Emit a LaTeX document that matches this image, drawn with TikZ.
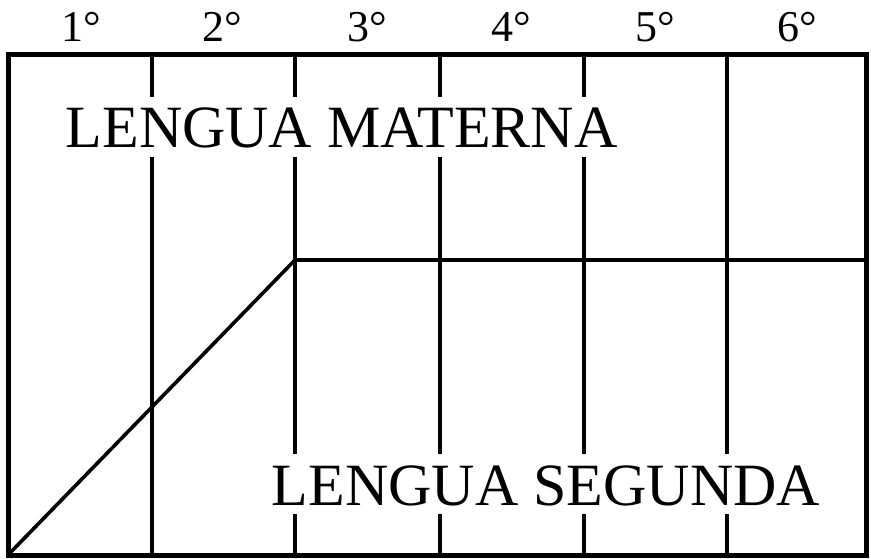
\documentclass[tikz,border=0pt]{standalone}
\usepackage{fontspec}
\setmainfont{Liberation Serif}
\begin{document}
\begin{tikzpicture}[x=1pt,y=-1pt,
  gridline/.style={line width=3.6pt},
  frameline/.style={line width=5pt},
  grade/.style={font=\fontsize{44}{44}\selectfont, anchor=base, inner sep=0pt},
  bigtext/.style={font=\fontsize{60}{60}\selectfont, fill=white, anchor=base,
    inner xsep=3pt, inner ysep=9pt, text height=42pt, text depth=0pt}]
\useasboundingbox (0,0) rectangle (871,559);
% corners
\coordinate (tl) at (8,55);
\coordinate (br) at (866,555);
\coordinate (bl) at (8,555);
\coordinate (knee) at (295,260);
\coordinate (rmid) at (866,260);
% vertical grid lines
\foreach \x/\n in {152/a,295/b,440/c,584/d,727/e}{
  \coordinate (t\n) at (\x,55);
  \coordinate (b\n) at (\x,555);
  \draw[gridline] (t\n) -- (b\n);
}
% horizontal and diagonal
\draw[gridline] (knee) -- (rmid);
\draw[gridline] (bl) -- (knee);
% frame
\draw[frameline] (tl) rectangle (br);
% grade labels
\foreach \x/\g/\n in {81/1/g1,222/2/g2,367/3/g3,511/4/g4,655/5/g5,797/6/g6}{
  \node[grade] (\n) at (\x,42) {\g°};
}
% big labels
\node[bigtext] (materna) at (341.5,148) {LENGUA MATERNA};
\node[bigtext] (segunda) at (546,505) {LENGUA SEGUNDA};
\end{tikzpicture}
\end{document}
